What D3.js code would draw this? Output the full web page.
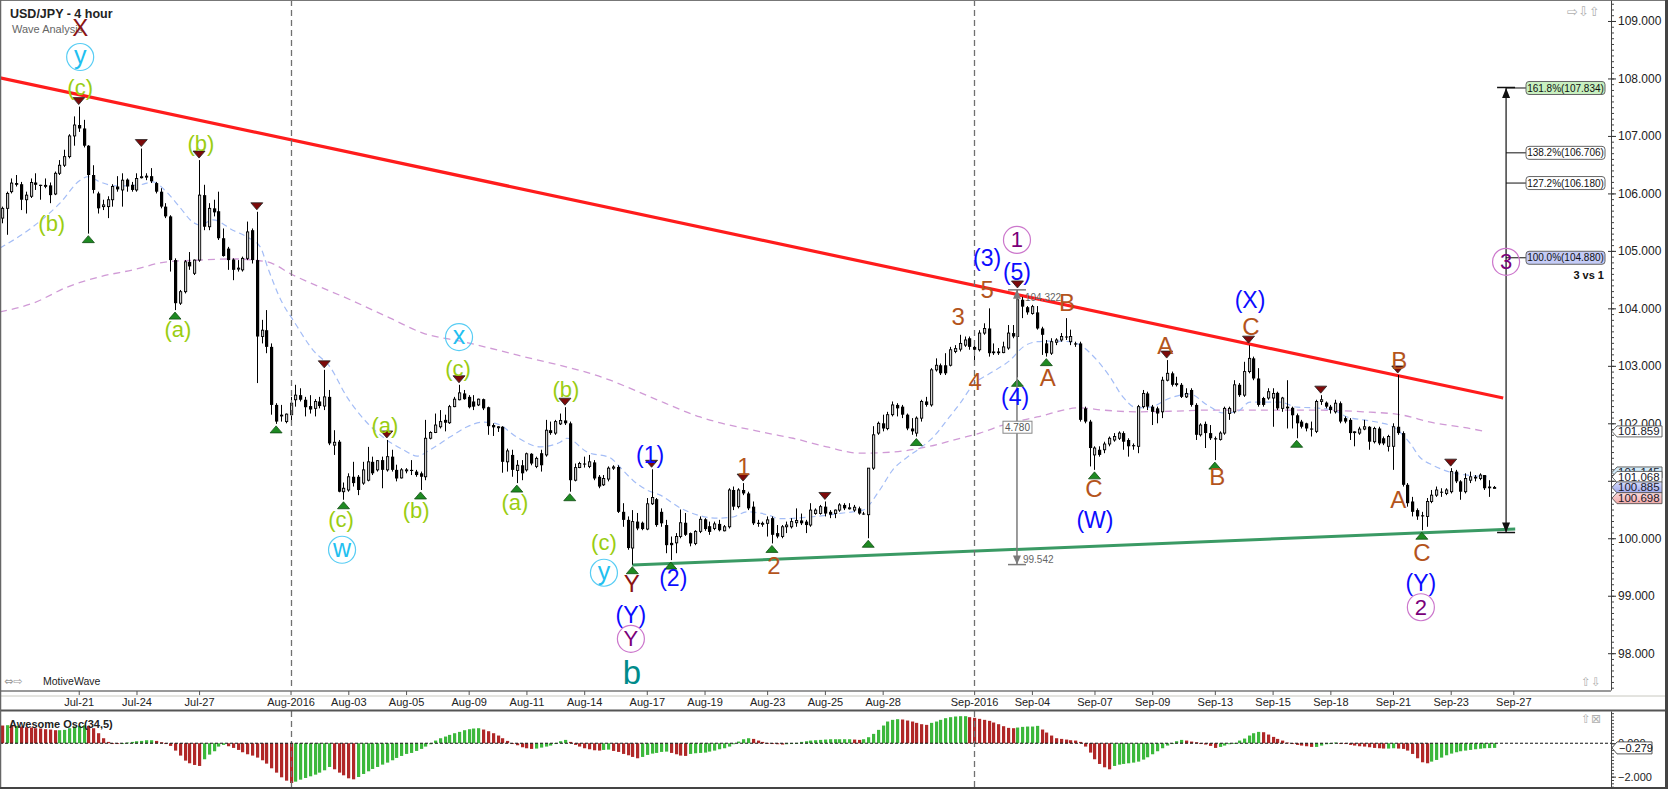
<!DOCTYPE html>
<html><head><meta charset="utf-8">
<script src="https://cdn.jsdelivr.net/npm/d3@7"></script>
<style>
html,body{margin:0;padding:0;background:#fff;overflow:hidden;}
svg{display:block;font-family:"Liberation Sans",Arial,sans-serif;}
</style></head>
<body><svg id="c" width="1668" height="789"></svg>
<script>
// ---------------- DATA ----------------
// 4-hour candles [open, high, low, close], bar index 0..310
const candles = [
[105.57,105.77,105.48,105.74],[105.74,106.03,105.28,106.00],[106.03,106.26,106.00,106.18],[106.18,106.32,106.12,106.15],
[106.16,106.20,105.71,105.89],[105.89,106.03,105.65,105.97],[105.95,106.26,105.92,106.19],[106.19,106.35,106.06,106.15],
[106.15,106.15,105.89,106.13],[106.13,106.26,106.09,106.14],[106.14,106.19,105.83,105.97],[105.99,106.38,105.97,106.35],
[106.35,106.58,106.32,106.49],[106.49,106.76,106.46,106.64],[106.64,107.03,106.61,107.00],[107.00,107.34,106.83,107.19],
[107.19,107.51,107.07,107.13],[107.13,107.28,106.80,106.83],[106.83,106.84,105.30,106.32],[106.32,106.49,106.00,106.06],
[106.00,106.03,105.65,105.74],[105.77,105.89,105.71,105.80],[105.77,105.95,105.57,105.89],[105.89,106.16,105.77,106.12],
[106.12,106.30,106.03,106.07],[106.06,106.35,105.77,106.23],[106.24,106.26,106.03,106.12],[106.15,106.20,106.03,106.06],
[106.06,106.35,106.03,106.26],[106.28,106.78,106.26,106.29],[106.29,106.35,106.23,106.30],[106.30,106.44,106.18,106.21],
[106.18,106.20,106.00,106.03],[106.03,106.09,105.74,105.77],[105.77,105.83,105.57,105.60],[105.60,105.62,104.64,104.84],
[104.84,104.87,103.97,104.09],[104.09,104.32,104.06,104.29],[104.29,104.84,104.26,104.81],[104.81,104.98,104.67,104.73],
[104.61,104.85,104.58,104.84],[104.84,106.58,104.81,105.97],[105.97,106.15,105.36,105.42],[105.42,105.83,105.36,105.74],
[105.74,105.89,105.60,105.67],[105.69,106.03,105.19,105.22],[105.22,105.39,104.90,104.91],[105.04,105.07,104.67,104.84],
[104.85,104.87,104.49,104.67],[104.69,104.84,104.64,104.70],[104.67,104.90,104.64,104.87],[104.87,105.51,104.84,105.33],
[105.36,105.39,104.78,104.84],[104.84,105.68,102.70,103.51],[103.51,103.80,103.39,103.62],[103.62,103.97,103.22,103.33],
[103.33,103.39,102.15,102.32],[102.32,102.35,101.99,102.03],[102.15,102.32,102.03,102.12],[102.03,102.17,102.00,102.16],
[102.15,102.46,102.00,102.35],[102.41,102.67,102.29,102.49],[102.49,102.61,102.38,102.41],[102.41,102.46,102.12,102.28],
[102.30,102.49,102.17,102.24],[102.26,102.42,102.12,102.38],[102.38,102.46,102.26,102.30],[102.30,102.93,102.23,102.46],
[102.46,102.58,101.62,101.65],[101.62,101.88,101.45,101.67],[101.68,101.71,100.80,100.81],[100.81,100.97,100.67,100.87],
[100.84,101.13,100.81,101.07],[101.07,101.33,100.90,100.96],[101.07,101.10,100.75,100.84],[100.96,101.33,100.93,101.19],
[101.01,101.59,100.99,101.33],[101.33,101.42,101.10,101.13],[101.19,101.36,101.16,101.35],[101.36,101.42,100.87,101.19],
[101.19,101.71,101.16,101.42],[101.42,101.54,101.16,101.19],[101.19,101.28,100.99,101.04],[101.05,101.22,101.04,101.19],
[101.18,101.22,101.13,101.19],[101.19,101.36,101.10,101.17],[101.16,101.19,101.07,101.10],[101.13,101.16,100.84,101.07],
[101.07,102.06,101.01,101.74],[101.74,101.86,101.72,101.84],[101.84,102.17,101.83,101.97],[101.94,102.23,101.91,102.03],
[102.06,102.15,101.86,102.01],[102.01,102.32,101.99,102.29],[102.29,102.46,102.28,102.42],[102.41,102.67,102.40,102.53],
[102.52,102.58,102.41,102.42],[102.46,102.49,102.26,102.28],[102.38,102.49,102.23,102.29],[102.32,102.43,102.30,102.42],
[102.42,102.43,102.23,102.26],[102.28,102.29,101.80,101.95],[101.97,102.00,101.78,101.93],[101.94,101.95,101.85,101.94],
[101.94,101.95,101.14,101.33],[101.33,101.56,101.16,101.52],[101.45,101.54,101.07,101.19],[101.18,101.36,100.96,101.27],
[101.27,101.36,101.01,101.13],[101.19,101.49,101.16,101.47],[101.47,101.48,101.27,101.30],[101.25,101.42,101.22,101.39],
[101.48,101.54,101.16,101.27],[101.45,102.06,101.42,101.88],[101.88,102.03,101.80,101.83],[101.83,102.06,101.80,102.03],
[101.99,102.17,101.97,102.05],[102.05,102.28,101.97,102.00],[102.00,102.03,100.81,101.01],[101.01,101.30,100.99,101.23],
[101.23,101.33,101.22,101.30],[101.30,101.42,101.23,101.29],[101.25,101.45,101.22,101.33],[101.32,101.36,101.01,101.04],
[101.07,101.10,100.87,100.90],[100.93,101.10,100.91,101.04],[101.03,101.25,100.99,101.22],[101.22,101.27,101.19,101.24],
[101.24,101.27,100.44,100.46],[100.46,100.61,100.20,100.32],[100.32,100.38,99.80,99.83],[99.83,100.49,99.54,100.29],
[100.29,100.44,100.14,100.17],[100.27,100.29,100.14,100.16],[100.16,100.70,100.14,100.60],[100.60,101.20,100.58,100.71],
[100.68,100.70,100.20,100.23],[100.46,100.52,100.20,100.26],[100.23,100.32,99.74,99.88],[99.92,100.03,99.62,99.88],
[99.92,100.09,99.74,100.03],[100.03,100.50,100.00,100.27],[100.27,100.44,100.04,100.06],[100.09,100.10,99.86,99.91],
[99.91,100.14,99.88,100.12],[100.12,100.38,100.09,100.33],[100.33,100.35,100.13,100.16],[100.21,100.29,100.06,100.11],
[100.17,100.29,100.14,100.25],[100.25,100.32,100.12,100.14],[100.13,100.23,100.12,100.20],[100.20,100.87,100.17,100.84],
[100.84,100.90,100.49,100.55],[100.55,100.87,100.52,100.84],[100.84,100.96,100.75,100.78],[100.78,100.81,100.49,100.52],
[100.55,100.64,100.23,100.26],[100.27,100.32,100.20,100.25],[100.25,100.29,100.20,100.26],[100.26,100.38,100.03,100.32],
[100.35,100.38,99.91,100.06],[100.09,100.23,100.00,100.03],[100.03,100.23,100.00,100.20],[100.20,100.29,100.09,100.23],
[100.20,100.35,100.17,100.29],[100.27,100.52,100.20,100.31],[100.31,100.43,100.23,100.26],[100.29,100.32,100.09,100.23],
[100.23,100.61,100.20,100.49],[100.43,100.52,100.41,100.49],[100.43,100.58,100.41,100.55],[100.55,100.64,100.38,100.43],
[100.46,100.49,100.35,100.41],[100.43,100.50,100.35,100.49],[100.49,100.61,100.46,100.58],[100.58,100.61,100.49,100.52],
[100.52,100.61,100.50,100.53],[100.49,100.58,100.46,100.54],[100.52,100.55,100.41,100.43],[100.43,100.46,100.41,100.42],
[100.41,101.22,100.00,101.22],[101.22,101.95,101.19,101.80],[101.83,102.03,101.80,102.00],[102.00,102.15,101.86,101.91],
[101.91,102.20,101.88,102.15],[102.15,102.38,102.12,102.32],[102.32,102.35,102.12,102.26],[102.29,102.32,102.09,102.15],
[102.15,102.17,101.88,101.91],[101.91,102.09,101.80,101.86],[101.83,102.12,101.77,102.09],[102.09,102.41,102.03,102.38],
[102.38,102.46,102.29,102.32],[102.32,102.96,102.29,102.93],[102.93,103.13,102.90,103.01],[103.01,103.04,102.84,102.87],
[103.01,103.22,102.84,102.87],[103.01,103.33,102.99,103.28],[103.25,103.36,103.22,103.30],[103.29,103.54,103.25,103.39],
[103.36,103.51,103.33,103.45],[103.48,103.51,103.28,103.33],[103.33,103.36,103.04,103.28],[103.28,103.62,103.25,103.57],
[103.57,103.74,103.54,103.65],[103.65,104.00,103.16,103.22],[103.25,103.39,103.19,103.22],[103.25,103.31,103.19,103.22],
[103.23,103.42,103.22,103.33],[103.31,103.71,103.28,103.57],[103.57,103.71,103.48,103.51],[103.51,104.32,102.80,104.15],
[104.15,104.20,103.83,104.03],[104.02,104.04,103.89,103.93],[103.91,104.06,103.89,104.03],[103.93,104.04,103.63,103.65],
[103.65,103.68,103.19,103.54],[103.39,103.45,103.16,103.22],[103.22,103.48,103.19,103.42],[103.41,103.48,103.36,103.45],
[103.45,103.57,103.42,103.51],[103.51,103.83,103.45,103.50],[103.42,103.63,103.36,103.51],[103.39,103.42,103.33,103.37],
[103.39,103.42,102.03,102.06],[102.26,102.29,102.00,102.03],[102.03,102.06,101.25,101.57],[101.45,101.60,101.19,101.57],
[101.54,101.60,101.42,101.45],[101.54,101.68,101.48,101.64],[101.64,101.77,101.60,101.74],[101.71,101.83,101.68,101.77],
[101.74,101.86,101.71,101.83],[101.83,101.86,101.54,101.68],[101.71,101.74,101.42,101.60],[101.62,101.65,101.54,101.60],
[101.60,102.32,101.48,102.29],[102.29,102.58,102.26,102.52],[102.52,102.55,102.23,102.29],[102.29,102.32,101.97,102.20],
[102.26,102.29,102.00,102.17],[102.20,102.81,102.09,102.75],[102.75,103.10,102.73,102.87],[102.87,102.90,102.64,102.67],
[102.68,102.81,102.64,102.69],[102.67,102.70,102.44,102.46],[102.46,102.61,102.44,102.52],[102.58,102.61,102.29,102.32],
[102.32,102.35,101.71,101.80],[101.80,102.00,101.77,101.97],[101.99,102.03,101.57,101.83],[101.83,101.97,101.71,101.74],
[101.74,101.77,101.36,101.72],[101.72,101.86,101.70,101.83],[101.83,102.29,101.80,102.26],[102.17,102.29,102.06,102.26],
[102.20,102.75,102.17,102.67],[102.67,102.70,102.46,102.49],[102.49,103.07,102.46,102.90],[102.90,103.36,102.87,103.13],
[103.13,103.16,102.75,102.78],[102.78,102.96,102.29,102.32],[102.44,102.46,102.29,102.32],[102.44,102.61,102.41,102.55],
[102.44,102.61,101.94,102.52],[102.53,102.55,102.23,102.26],[102.26,102.46,102.20,102.44],[102.29,102.75,101.91,102.26],
[102.27,102.29,101.91,102.14],[102.14,102.17,101.74,102.00],[102.03,102.06,101.91,101.94],[102.00,102.01,101.86,101.91],
[101.91,102.03,101.77,101.89],[101.86,102.41,101.83,102.38],[102.38,102.49,102.32,102.41],[102.36,102.38,102.26,102.29],
[102.29,102.32,102.17,102.23],[102.20,102.41,102.17,102.35],[102.35,102.38,102.00,102.03],[102.09,102.12,102.00,102.03],
[102.06,102.09,101.71,101.83],[101.86,101.86,101.60,101.83],[101.83,101.94,101.80,101.90],[101.90,102.06,101.88,101.94],
[101.94,101.95,101.54,101.68],[101.68,101.94,101.65,101.91],[101.91,101.94,101.62,101.65],[101.74,101.77,101.62,101.65],
[101.60,101.80,101.51,101.77],[101.60,102.00,101.19,101.94],[101.94,102.84,101.80,101.83],[101.83,101.86,100.90,100.93],
[100.93,100.96,100.55,100.61],[100.64,100.72,100.38,100.46],[100.49,100.52,100.32,100.38],[100.40,100.46,100.14,100.38],
[100.38,100.70,100.20,100.64],[100.64,100.84,100.61,100.75],[100.75,100.90,100.72,100.84],[100.81,100.87,100.72,100.80],
[100.78,100.87,100.75,100.84],[100.81,101.22,100.78,101.16],[101.16,101.19,100.96,100.99],[100.99,101.01,100.67,100.81],
[100.81,101.13,100.78,101.04],[101.01,101.16,100.96,101.07],[101.07,101.10,100.99,101.04],[101.04,101.13,101.01,101.10],
[101.10,101.10,100.84,100.87],[100.90,101.01,100.72,100.87],[100.87,100.91,100.87,100.885]
];

// Awesome Oscillator (34,5), one value per bar
const aoValues = [
1.06,1.08,1.04,1.04,1.00,0.96,0.94,0.90,0.88,0.84,
0.82,0.78,0.78,0.80,0.90,1.00,1.04,1.08,1.04,0.90,
0.60,0.30,0.08,0.00,-0.04,-0.04,0.04,0.08,0.12,0.14,
0.18,0.18,0.14,0.06,-0.04,-0.16,-0.44,-0.74,-1.04,-1.20,
-1.30,-1.36,-0.96,-0.68,-0.48,-0.20,-0.10,-0.18,-0.28,-0.40,
-0.54,-0.66,-0.74,-0.86,-1.02,-1.22,-1.50,-1.76,-2.04,-2.24,
-2.38,-2.30,-2.18,-2.08,-1.98,-1.88,-1.76,-1.62,-1.42,-1.56,
-1.76,-1.92,-2.10,-2.16,-2.02,-1.84,-1.68,-1.54,-1.42,-1.28,
-1.16,-1.02,-0.88,-0.76,-0.64,-0.58,-0.46,-0.34,-0.20,-0.06,
0.16,0.30,0.40,0.50,0.60,0.68,0.78,0.84,0.88,0.90,
0.82,0.72,0.60,0.46,0.30,0.14,-0.02,-0.12,-0.24,-0.30,
-0.34,-0.32,-0.26,-0.20,-0.14,-0.04,0.12,0.20,0.08,-0.10,
-0.20,-0.30,-0.36,-0.42,-0.44,-0.40,-0.38,-0.46,-0.52,-0.64,
-0.72,-0.82,-0.90,-0.82,-0.70,-0.62,-0.58,-0.52,-0.50,-0.58,
-0.66,-0.74,-0.76,-0.64,-0.60,-0.58,-0.56,-0.50,-0.44,-0.36,
-0.30,-0.20,-0.06,0.10,0.24,0.30,0.26,0.16,0.08,0.02,
-0.04,-0.06,-0.08,-0.06,-0.04,0.02,0.08,0.12,0.16,0.18,
0.20,0.22,0.24,0.24,0.24,0.24,0.24,0.22,0.20,0.24,
0.36,0.56,0.80,1.06,1.30,1.40,1.44,1.42,1.36,1.30,
1.22,1.14,1.10,1.22,1.30,1.40,1.50,1.56,1.60,1.62,
1.62,1.56,1.52,1.46,1.40,1.34,1.24,1.14,1.02,0.92,
0.90,0.94,0.98,1.00,1.00,1.04,0.82,0.64,0.46,0.30,
0.26,0.22,0.18,0.16,0.08,-0.20,-0.56,-0.96,-1.24,-1.44,
-1.56,-1.36,-1.28,-1.24,-1.20,-1.16,-1.10,-0.98,-0.84,-0.66,
-0.48,-0.30,-0.14,-0.04,0.12,0.20,0.16,0.10,0.06,-0.02,
-0.08,-0.16,-0.28,-0.22,-0.14,-0.06,0.02,0.16,0.28,0.46,
0.60,0.68,0.66,0.52,0.38,0.26,0.16,0.04,-0.04,-0.10,
-0.14,-0.18,-0.22,-0.22,-0.14,-0.06,0.00,0.04,0.00,-0.04,
-0.10,-0.14,-0.18,-0.20,-0.24,-0.28,-0.30,-0.32,-0.32,-0.30,
-0.32,-0.34,-0.44,-0.64,-0.90,-1.14,-1.20,-1.10,-1.00,-0.86,
-0.72,-0.62,-0.54,-0.48,-0.44,-0.40,-0.36,-0.33,-0.30,-0.29,-0.279
];

// moving averages, [bar index, price] points
const fastMA = [[-0.35,105.05],[6.5,105.42],[12.1,105.83],[16.3,106.23],[17.9,106.29],[20.4,106.20],[23.9,106.13],[28.7,106.15],[31.4,106.20],[34.3,106.02],[37.0,105.76],[39.7,105.50],[41.2,105.45],[43.9,105.54],[48.0,105.36],[51.0,105.24],[53.7,105.07],[55.3,104.70],[58.2,104.11],[60.5,103.80],[64.7,103.27],[68.2,102.98],[71.7,102.46],[75.9,102.01],[80.0,101.71],[83.4,101.54],[86.3,101.43],[89.0,101.54],[93.1,101.76],[96.7,101.94],[100.0,102.02],[102.9,101.99],[107.0,101.76],[111.8,101.59],[116.0,101.67],[117.4,101.74],[121.6,101.50],[126.4,101.40],[128.4,101.24],[131.1,101.01],[134.0,100.84],[136.8,100.75],[140.9,100.53],[145.1,100.39],[148.6,100.35],[151.9,100.37],[154.8,100.46],[159.0,100.41],[161.7,100.34],[167.9,100.37],[174.8,100.44],[178.9,100.49],[182.4,100.84],[185.1,101.19],[188.1,101.41],[190.8,101.57],[193.5,101.76],[196.4,102.06],[199.1,102.35],[201.8,102.67],[205.3,102.87],[209.5,103.10],[212.2,103.33],[215.1,103.42],[217.8,103.43],[222.0,103.42],[224.0,103.36],[227.5,103.10],[230.2,102.81],[232.9,102.46],[235.8,102.27],[238.5,102.28],[242.7,102.44],[246.8,102.51],[250.4,102.32],[253.7,102.18],[256.6,102.20],[259.3,102.37],[265.5,102.37],[269.1,102.28],[272.4,102.27],[276.6,102.23],[279.5,102.11],[282.8,102.06],[286.3,102.01],[289.0,101.94],[292.5,101.66],[294.6,101.41],[297.3,101.27],[300.9,101.15],[304.4,101.10],[308.5,101.07]];
const slowMA = [[-0.35,103.94],[6.5,104.09],[13.6,104.37],[20.4,104.55],[27.3,104.67],[34.3,104.81],[41.2,104.84],[48.0,104.86],[55.1,104.81],[60.5,104.58],[72.4,104.15],[80.7,103.83],[87.5,103.57],[95.8,103.42],[107.0,103.19],[126.4,102.75],[134.7,102.46],[145.1,102.11],[159.0,101.83],[164.4,101.74],[171.4,101.59],[178.3,101.48],[185.1,101.50],[192.2,101.59],[199.1,101.74],[203.2,101.83],[208.0,101.97],[215.1,102.11],[224.0,102.27],[228.8,102.23],[235.8,102.20],[242.7,102.21],[251.0,102.23],[258.7,102.23],[272.4,102.23],[282.8,102.20],[290.5,102.15],[297.3,102.01],[304.4,101.92],[308.5,101.85]];

// time axis
const tickLabels = ["Jul-21","Jul-24","Jul-27","Aug-2016","Aug-03","Aug-05","Aug-09","Aug-11","Aug-14","Aug-17","Aug-19","Aug-23","Aug-25","Aug-28","Sep-2016","Sep-04","Sep-07","Sep-09","Sep-13","Sep-15","Sep-18","Sep-21","Sep-23","Sep-27"];
const tickIndex  = [16,28,41,60,72,84,97,109,121,134,146,159,171,183,202,214,227,239,252,264,276,289,301,314];
const monthStarts = [60,202];
// price axis (101.000 sits under the value tags and is not shown)
const priceTicks = [98,99,100,101,102,103,104,105,106,107,108,109];
const priceLabelled = [98,99,100,102,103,104,105,106,107,108,109];
const oscTicks = [-2,0];

// trend lines [index, price]
const resistanceLine = [[-0.35,108.01],[311.9,102.44]];
const supportLine = [[131,99.535],[314.4,100.16]];

// swing markers (bar indices)
const highMarks = [16,29,41,53,67,80,95,117,135,154,171,211,242,259,274,290,301];
const lowMarks  = [18,36,57,71,87,107,118,131,139,160,180,190,211,217,227,252,269,295];

// wave labels [text, index, price, kind]
const waveLabels = [
["X",16.3,108.895,"dr"],["(c)",16.3,107.834,"g"],["(b)",10.4,105.485,"g"],["(b)",41.4,106.877,"g"],
["(a)",36.6,103.624,"g"],["(c)",70.5,100.32,"g"],["(a)",79.6,101.97,"g"],["(b)",86.1,100.49,"g"],
["(c)",94.8,102.96,"g"],["(a)",106.6,100.63,"g"],["(b)",117.2,102.58,"g"],["(1)",134.7,101.45,"bl"],
["(c)",125.1,99.92,"g"],["Y",130.9,99.22,"dr"],["(2)",139.5,99.31,"bl"],["(Y)",130.7,98.67,"bl"],
["b",130.9,97.66,"teal"],["1",154.2,101.24,"br"],["2",160.4,99.53,"br"],["3",198.7,103.85,"br"],
["4",202.2,102.72,"br"],["5",204.7,104.32,"br"],["(3)",204.7,104.88,"bl"],["(5)",210.9,104.63,"bl"],
["(4)",210.5,102.46,"bl"],["A",217.3,102.79,"br"],["B",221.3,104.11,"br"],["C",226.9,100.86,"br"],
["(W)",227.1,100.32,"bl"],["A",241.7,103.36,"br"],["B",252.5,101.07,"br"],["(X)",259.3,104.15,"bl"],
["C",259.5,103.68,"br"],["B",290.3,103.10,"br"],["A",290.1,100.67,"br"],["C",295.0,99.76,"br"],
["(Y)",294.8,99.22,"bl"]
];
const circledLabels = [
["y",16.3,108.373,"cy"],["w",70.7,99.80,"cy"],["x",95.0,103.50,"cy"],["y",125.1,99.40,"cy"],
["Y",130.7,98.25,"pu"],["1",210.9,105.19,"pu"],["2",294.8,98.80,"pu"],["3",312.5,104.81,"pu"]
];

// measurement of wave 1
const measureIndex = 210.9, measureTop = 104.322, measureBottom = 99.542;
// fibonacci extension 3 vs 1
const fibIndex = 312.5, fibBase = 100.10;
const fibPct = ["161.8%","138.2%","127.2%","100.0%"];
const fibVal = [107.834,106.706,106.180,104.880];
const fibKind = ["green","white","white","blue"];
// right axis value tags
const tagVal = [101.859,101.145,101.068,100.885,100.698];
const tagKind = ["white","sky","white","lav","pink"];
const oscLast = -0.279;

// ---------------- DRAW ----------------
const svg = d3.select("#c");
const AX = 1611, MB = 690, OT = 711, OB = 787;
const x = d3.scaleLinear().domain([0,314]).range([1.7,1513.3]);
const y = d3.scaleLinear().domain([97.36,109.365]).range([MB,0]);
const yo = d3.scaleLinear().domain([-2.62,1.93]).range([OB,OT]);

const defs = svg.append("defs");
defs.append("clipPath").attr("id","cm").append("rect").attr("x",0).attr("y",0).attr("width",AX).attr("height",MB);
defs.append("clipPath").attr("id","co").append("rect").attr("x",0).attr("y",OT).attr("width",AX).attr("height",OB-OT);
defs.append("linearGradient").attr("id","lavg").attr("x1",0).attr("x2",0).attr("y1",0).attr("y2",1)
  .selectAll("stop").data([["0%","#d6dbfb"],["100%","#9ea8ee"]]).join("stop").attr("offset",d=>d[0]).attr("stop-color",d=>d[1]);
defs.append("linearGradient").attr("id","pinkg").attr("x1",0).attr("x2",0).attr("y1",0).attr("y2",1)
  .selectAll("stop").data([["0%","#fbdada"],["100%","#f0a8a8"]]).join("stop").attr("offset",d=>d[0]).attr("stop-color",d=>d[1]);

svg.append("rect").attr("width",1668).attr("height",789).attr("fill","#fff");

const gm = svg.append("g").attr("clip-path","url(#cm)");
const go = svg.append("g").attr("clip-path","url(#co)");

// month separators
monthStarts.forEach(i=>{
  const xx = Math.round(x(i))+0.5;
  [[0,MB],[OT,OB]].forEach(r=>{
    svg.append("line").attr("x1",xx).attr("x2",xx).attr("y1",r[0]).attr("y2",r[1])
      .attr("stroke","#707070").attr("stroke-width",1.3).attr("stroke-dasharray","6,4");
  });
});

// titles
svg.append("text").attr("x",10).attr("y",18).attr("font-size",12.5).attr("font-weight","bold").attr("fill","#222").text("USD/JPY - 4 hour");
svg.append("text").attr("x",12).attr("y",33).attr("font-size",11).attr("fill","#666").text("Wave Analysis");

// moving averages
const line = d3.line().x(d=>x(d[0])).y(d=>y(d[1])).curve(d3.curveMonotoneX);
gm.append("path").attr("d",line(slowMA)).attr("fill","none").attr("stroke","#d09ad6").attr("stroke-width",1.3).attr("stroke-dasharray","7,5");
gm.append("path").attr("d",line(fastMA)).attr("fill","none").attr("stroke","#a4bdf6").attr("stroke-width",1.2).attr("stroke-dasharray","6,4");

// trend lines
const sline = d3.line().x(d=>x(d[0])).y(d=>y(d[1]));
gm.append("path").attr("d",sline(resistanceLine)).attr("stroke","#ff1c1c").attr("stroke-width",3.2).attr("fill","none");
gm.append("path").attr("d",sline(supportLine)).attr("stroke","#3a9a64").attr("stroke-width",3).attr("fill","none");

// candles
const cg = gm.append("g");
candles.forEach((c,i)=>{
  const [o,h,l,cl] = c;
  const cx = Math.round(x(i));
  cg.append("line").attr("x1",cx+0.5).attr("x2",cx+0.5).attr("y1",y(h)).attr("y2",y(l)).attr("stroke","#000").attr("stroke-width",1);
  const top = y(Math.max(o,cl)), bot = y(Math.min(o,cl));
  const hgt = Math.max(1, bot-top);
  if (cl >= o) {
    cg.append("rect").attr("x",cx-0.5).attr("y",top).attr("width",2.2).attr("height",hgt)
      .attr("fill","#cfcfcf").attr("stroke","#000").attr("stroke-width",0.9);
  } else {
    cg.append("rect").attr("x",cx-1).attr("y",top).attr("width",3.2).attr("height",hgt).attr("fill","#000");
  }
});

// swing markers
highMarks.forEach(i=>{
  const cx = x(i), t = y(candles[i][1]) - 2;
  gm.append("path").attr("d",`M${cx-6},${t-7}L${cx+6},${t-7}L${cx},${t}Z`).attr("fill","#7d0a0a").attr("stroke","#222").attr("stroke-width",0.8);
});
lowMarks.forEach(i=>{
  const cx = x(i), t = y(candles[i][2]) + 2;
  gm.append("path").attr("d",`M${cx},${t}L${cx+6},${t+7}L${cx-6},${t+7}Z`).attr("fill","#1e8a22").attr("stroke","#124d14").attr("stroke-width",0.8);
});

// measurement tool
{
  const mx = x(measureIndex), yt = y(measureTop), yb = y(measureBottom);
  const g = svg.append("g").attr("stroke","#7a7a7a").attr("fill","#7a7a7a");
  g.append("line").attr("x1",mx).attr("x2",mx).attr("y1",yt).attr("y2",yb).attr("stroke-width",1.5);
  g.append("line").attr("x1",mx-9).attr("x2",mx+9).attr("y1",yt).attr("y2",yt).attr("stroke-width",1.5);
  g.append("line").attr("x1",mx-9).attr("x2",mx+9).attr("y1",yb).attr("y2",yb).attr("stroke-width",1.5);
  g.append("path").attr("d",`M${mx-4},${yb-9}L${mx+4},${yb-9}L${mx},${yb}Z`).attr("stroke","none");
  g.append("path").attr("d",`M${mx-4},${yt+9}L${mx+4},${yt+9}L${mx},${yt}Z`).attr("stroke","none");
  const ym = y((measureTop+measureBottom)/2);
  svg.append("rect").attr("x",mx-14).attr("y",ym-6).attr("width",29).attr("height",12).attr("fill","#fff").attr("stroke","#888");
  svg.append("text").attr("x",mx+0.5).attr("y",ym+4).attr("text-anchor","middle").attr("font-size",10).attr("fill","#555").text(d3.format(".3f")(measureTop-measureBottom));
  svg.append("text").attr("x",mx+8).attr("y",yt+11).attr("font-size",10).attr("fill","#666").text(d3.format(".3f")(measureTop));
  svg.append("text").attr("x",mx+6).attr("y",yb-2).attr("font-size",10).attr("fill","#666").text(d3.format(".3f")(measureBottom));
}

// fibonacci extension
{
  const fx = x(fibIndex), yt = y(fibVal[0]), yb = y(fibBase);
  svg.append("line").attr("x1",fx).attr("x2",fx).attr("y1",yt).attr("y2",yb).attr("stroke","#111").attr("stroke-width",1.2);
  svg.append("line").attr("x1",fx-9).attr("x2",fx+9).attr("y1",yt-0.5).attr("y2",yt-0.5).attr("stroke","#111").attr("stroke-width",1.5);
  svg.append("line").attr("x1",fx-9).attr("x2",fx+9).attr("y1",yb).attr("y2",yb).attr("stroke","#111").attr("stroke-width",1.5);
  svg.append("path").attr("d",`M${fx-4},${yt+10}L${fx+4},${yt+10}L${fx},${yt}Z`).attr("fill","#111");
  svg.append("path").attr("d",`M${fx-4},${yb-10}L${fx+4},${yb-10}L${fx},${yb}Z`).attr("fill","#111");
  const fills = {green:"#c8f0c0", white:"#ffffff", blue:"#c4cbf6"};
  fibVal.forEach((v,k)=>{
    const yy = y(v);
    svg.append("line").attr("x1",fx).attr("x2",1526).attr("y1",yy).attr("y2",yy).attr("stroke","#111").attr("stroke-width",1);
    svg.append("rect").attr("x",1526).attr("y",yy-6.5).attr("width",79).attr("height",13).attr("rx",3)
      .attr("fill",fills[fibKind[k]]).attr("stroke","#666");
    svg.append("text").attr("x",1565.5).attr("y",yy+3.6).attr("text-anchor","middle").attr("font-size",10).attr("fill","#111")
      .text(fibPct[k]+"("+d3.format(".3f")(v)+")");
  });
  svg.append("text").attr("x",1604).attr("y",y(fibVal[3])+21).attr("text-anchor","end").attr("font-size",11).attr("font-weight","bold").attr("fill","#111").text("3 vs 1");
}

// wave labels
const kinds = {g:["#9acd12",22], bl:["#0c0cff",23], br:["#b4541c",24], dr:["#8b1414",24], teal:["#008b8b",33]};
waveLabels.forEach(d=>{
  const k = kinds[d[3]];
  svg.append("text").attr("x",x(d[1])).attr("y",y(d[2])).attr("text-anchor","middle").attr("dominant-baseline","central")
    .attr("font-size",k[1]).attr("fill",k[0]).text(d[0]);
});
const ck = {cy:["#58cdf4","#22bff0"], pu:["#cc77cc","#7a007a"]};
circledLabels.forEach(d=>{
  const k = ck[d[3]], cx = x(d[1]), cy = y(d[2]);
  svg.append("circle").attr("cx",cx).attr("cy",cy).attr("r",13.5).attr("fill","none").attr("stroke",k[0]).attr("stroke-width",1.2);
  const lower = d[0] === d[0].toLowerCase() && isNaN(+d[0]);
  svg.append("text").attr("x",cx).attr("y",cy + (lower ? -2 : 0)).attr("text-anchor","middle").attr("dominant-baseline","central")
    .attr("font-size",lower ? 25 : 22).attr("fill",k[1]).text(d[0]);
});

// oscillator
const zero = yo(0);
aoValues.forEach((v,i)=>{
  const up = i>0 && v >= aoValues[i-1];
  const cx = Math.round(x(i));
  const t = Math.min(yo(v), zero), hh = Math.max(0.8, Math.abs(yo(v)-zero));
  go.append("rect").attr("x",cx-1).attr("y",t).attr("width",3.2).attr("height",hh)
    .attr("fill", up ? "#3cb83c" : "#b02828");
});
svg.append("line").attr("x1",0).attr("x2",AX).attr("y1",zero).attr("y2",zero).attr("stroke","#111").attr("stroke-width",1).attr("stroke-dasharray","3,2");
svg.append("text").attr("x",9).attr("y",728).attr("font-size",11).attr("font-weight","bold").attr("fill","#222").text("Awesome Osc(34,5)");

// panel frames
svg.append("line").attr("x1",0).attr("x2",AX).attr("y1",MB+1).attr("y2",MB+1).attr("stroke","#9a9a9a").attr("stroke-width",2);
svg.append("line").attr("x1",0).attr("x2",1668).attr("y1",696).attr("y2",696).attr("stroke","#c8c8c0").attr("stroke-width",1);
svg.append("line").attr("x1",0).attr("x2",1668).attr("y1",OT-0.5).attr("y2",OT-0.5).attr("stroke","#555").attr("stroke-width",2);
svg.append("line").attr("x1",0).attr("x2",1668).attr("y1",0.5).attr("y2",0.5).attr("stroke","#777").attr("stroke-width",1);
svg.append("line").attr("x1",0.5).attr("x2",0.5).attr("y1",0).attr("y2",789).attr("stroke","#666").attr("stroke-width",1.5);
svg.append("line").attr("x1",1666.5).attr("x2",1666.5).attr("y1",0).attr("y2",789).attr("stroke","#444").attr("stroke-width",3);
svg.append("line").attr("x1",0).attr("x2",1668).attr("y1",788).attr("y2",788).attr("stroke","#444").attr("stroke-width",2);

// bottom time axis
const xa = svg.append("g").attr("transform",`translate(0,${MB+1})`)
  .call(d3.axisBottom(x).tickValues(tickIndex).tickFormat((d,k)=>tickLabels[k]).tickSize(4).tickPadding(3).tickSizeOuter(0));
xa.select(".domain").remove();
xa.selectAll("text").attr("font-size",11).attr("fill","#222").attr("font-family","'Liberation Sans',Arial,sans-serif");
xa.selectAll("line").attr("stroke","#555");

// right price axis
const minor = d3.range(974,1094).map(v=>v/10);
const ra1 = svg.append("g").attr("transform",`translate(${AX},0)`)
  .call(d3.axisRight(y).tickValues(minor).tickSize(3).tickFormat("").tickSizeOuter(0));
ra1.select(".domain").attr("stroke","#444");
ra1.selectAll("line").attr("stroke","#444");
const ra = svg.append("g").attr("transform",`translate(${AX},0)`)
  .call(d3.axisRight(y).tickValues(priceTicks).tickFormat(d=>priceLabelled.includes(d)?d3.format(".3f")(d):"").tickSize(5).tickPadding(2).tickSizeOuter(0));
ra.select(".domain").remove();
ra.selectAll("line").attr("stroke","#333").attr("x1",-3);
ra.selectAll("text").attr("font-size",12).attr("fill","#222").attr("font-family","'Liberation Sans',Arial,sans-serif");

// value tags
const tagFill = {white:"#ffffff", sky:"#d4ecfa", lav:"url(#lavg)", pink:"url(#pinkg)"};
tagVal.forEach((v,k)=>{
  const yy = y(v);
  svg.append("path").attr("d",`M${AX+1},${yy}L${AX+6},${yy-5.5}L${1662},${yy-5.5}L${1662},${yy+5.5}L${AX+6},${yy+5.5}Z`)
    .attr("fill",tagFill[tagKind[k]]).attr("stroke","#555").attr("stroke-width",0.9);
  svg.append("text").attr("x",AX+7).attr("y",yy+4).attr("font-size",11.5).attr("fill","#1a1a2a").text(d3.format(".3f")(v));
});

// oscillator axis
const ominor = d3.range(-26,20,2).map(v=>v/10);
const oa1 = svg.append("g").attr("transform",`translate(${AX},0)`)
  .call(d3.axisRight(yo).tickValues(ominor).tickSize(3).tickFormat("").tickSizeOuter(0));
oa1.select(".domain").attr("stroke","#444");
oa1.selectAll("line").attr("stroke","#444");
const oa = svg.append("g").attr("transform",`translate(${AX},0)`)
  .call(d3.axisRight(yo).tickValues(oscTicks).tickFormat(d3.format(".3f")).tickSize(5).tickPadding(2).tickSizeOuter(0));
oa.select(".domain").remove();
oa.selectAll("line").attr("stroke","#333");
oa.selectAll("text").attr("font-size",11).attr("fill","#222").attr("font-family","'Liberation Sans',Arial,sans-serif");
{
  const yy = yo(oscLast);
  svg.append("path").attr("d",`M${AX+1},${yy}L${AX+6},${yy-6}L${1652},${yy-6}L${1652},${yy+6}L${AX+6},${yy+6}Z`)
    .attr("fill","#fff").attr("stroke","#444").attr("stroke-width",0.9);
  svg.append("text").attr("x",AX+8).attr("y",yy+4).attr("font-size",11).attr("fill","#111").text(d3.format(".3f")(oscLast));
}

// small controls / branding
svg.append("text").attr("x",1567).attr("y",16).attr("font-size",13).attr("fill","#b0b0b0").attr("font-family","'DejaVu Sans',sans-serif").text("⇨⇩⇧");
svg.append("text").attr("x",1581).attr("y",686).attr("font-size",12).attr("fill","#b0b0b0").attr("font-family","'DejaVu Sans',sans-serif").text("⇧⇩");
svg.append("text").attr("x",1581).attr("y",723).attr("font-size",12).attr("fill","#b0b0b0").attr("font-family","'DejaVu Sans',sans-serif").text("⇧⊠");
svg.append("text").attr("x",4).attr("y",685).attr("font-size",11).attr("fill","#999").attr("font-family","'DejaVu Sans',sans-serif").text("⇔⇨");
svg.append("text").attr("x",43).attr("y",685).attr("font-size",10.5).attr("fill","#222").text("MotiveWave");
</script>
</body></html>
